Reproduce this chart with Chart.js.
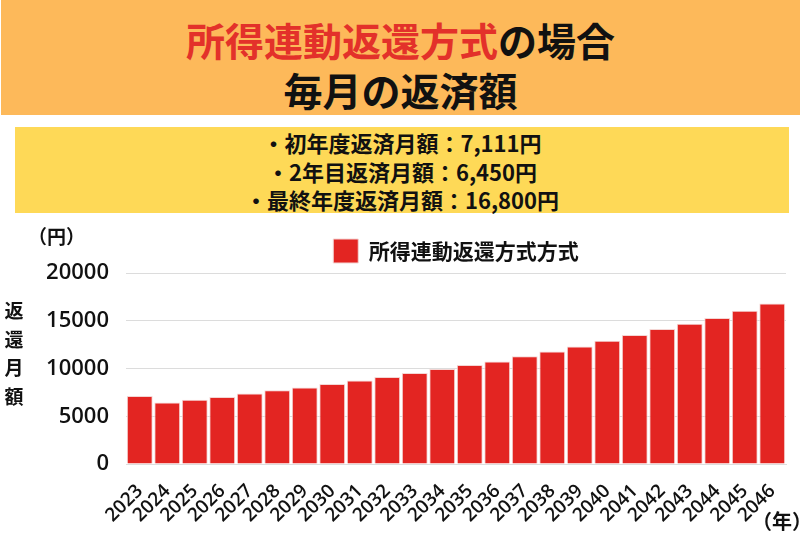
<!DOCTYPE html>
<html lang="ja">
<head>
<meta charset="utf-8">
<script src="https://cdn.jsdelivr.net/npm/chart.js@4.4.1/dist/chart.umd.min.js"></script>
<style>
  html, body { margin: 0; padding: 0; background: #fff; }
  body { width: 800px; height: 533px; position: relative; overflow: hidden; font-family: "Noto Sans CJK JP", "Noto Sans", sans-serif; }
  .banner { position: absolute; left: 1px; top: 0; width: 799px; height: 115px; background: #fdb95a; text-align: center; font-weight: 700; font-size: 39px; color: #111; }
  .banner .l1 { position: absolute; left: 0; right: 0; top: 15px; line-height: 48px; }
  .banner .l2 { position: absolute; left: 0; right: 0; top: 65px; line-height: 48px; }
  .banner .red { color: #e3312a; }
  .info { position: absolute; left: 15px; top: 127px; width: 774px; height: 86px; background: #fed957; text-align: center; font-weight: 700; font-size: 22px; color: #111; }
  .info div { line-height: 28.5px; }
  .info .first { margin-top: 1px; }
  #wrap { position: absolute; left: 0; top: 215px; width: 800px; height: 318px; }
  .unit-y { position: absolute; left: 28px; top: 222px; font-size: 19px; font-weight: 700; color: #111; }
  .unit-x { position: absolute; left: 752px; top: 506px; font-size: 20px; font-weight: 700; color: #111; }
  .ytitle { position: absolute; left: 4px; top: 296px; width: 20px; font-size: 19px; font-weight: 700; color: #111; line-height: 28.5px; text-align: center; }
</style>
</head>
<body>
<div class="banner">
  <div class="l1"><span class="red">所得連動返還方式</span>の場合</div>
  <div class="l2">毎月の返済額</div>
</div>
<div class="info">
  <div class="first">・初年度返済月額：7,111円</div>
  <div>・2年目返済月額：6,450円</div>
  <div>・最終年度返済月額：16,800円</div>
</div>
<div id="wrap"><canvas id="chart"></canvas></div>
<div class="unit-y">（円）</div>
<div class="ytitle">返<br>還<br>月<br>額</div>
<div class="unit-x">（年）</div>
<script>
const years = ["2023", "2024", "2025", "2026", "2027", "2028", "2029", "2030", "2031", "2032", "2033", "2034",
  "2035", "2036", "2037", "2038", "2039", "2040", "2041", "2042", "2043", "2044", "2045", "2046"];
const payments = [7111, 6450, 6730, 7020, 7390, 7710, 8020, 8380, 8750, 9110, 9530, 9950,
  10370, 10740, 11270, 11790, 12310, 12910, 13510, 14140, 14690, 15290, 16050, 16800];
const seriesLabel = "所得連動返還方式方式";
const yTicks = [0, 5000, 10000, 15000, 20000];

const canvas = document.getElementById("chart");
new Chart(canvas, {
  type: "bar",
  data: {
    labels: years,
    datasets: [
      {
        label: seriesLabel,
        data: payments,
        backgroundColor: "#e32522",
        borderColor: "#f4d6d4",
        borderWidth: 1,
        barPercentage: 0.94,
        categoryPercentage: 1,
      },
    ],
  },
  options: {
    responsive: true,
    maintainAspectRatio: false,
    animation: false,
    layout: { padding: { top: 14, right: 14, left: 0, bottom: 0 } },
    plugins: {
      legend: {
        position: "top",
        fullSize: false,
        labels: {
          boxWidth: 25,
          boxHeight: 24,
          color: "#111",
          padding: 10,
          font: { family: "'Noto Sans CJK JP'", size: 21, weight: "700" },
        },
      },
      tooltip: { enabled: false },
    },
    scales: {
      x: {
        grid: { display: false },
        border: { color: "#ddd" },
        ticks: {
          color: "#111",
          minRotation: 45,
          maxRotation: 45,
          autoSkip: false,
          padding: 8,
          font: { family: "'Open Sans'", size: 19, weight: "600" },
        },
        afterFit: (scale) => { scale.height = 69; },
      },
      y: {
        min: 0,
        max: 20000,
        afterBuildTicks: (scale) => { scale.ticks = yTicks.map((v) => ({ value: v })); },
        grid: { color: "#dcdcdc", drawTicks: false },
        border: { display: false },
        ticks: {
          color: "#111",
          padding: 17,
          font: { family: "'Open Sans'", size: 22, weight: "600" },
          callback: (v) => String(v),
        },
        afterFit: (scale) => { scale.width = 126; },
      },
    },
  },
});
</script>
</body>
</html>
